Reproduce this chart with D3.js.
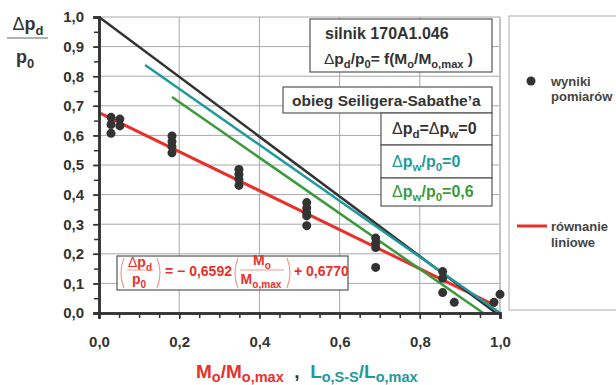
<!DOCTYPE html>
<html>
<head>
<meta charset="utf-8">
<script src="https://cdn.jsdelivr.net/npm/d3@7"></script>
<style>
  body { margin: 0; background: #fff; }
  svg { font-family: "Liberation Sans", Arial, sans-serif; }
</style>
</head>
<body>
<div id="wykres"></div>
<script>
// wyniki pomiarow
var pomiarX = [0.03, 0.03, 0.03, 0.052, 0.052,
    0.182, 0.182, 0.182, 0.182,
    0.349, 0.349, 0.349, 0.349,
    0.518, 0.518, 0.518, 0.518, 0.518,
    0.69, 0.69, 0.69, 0.69,
    0.857, 0.857, 0.857, 0.886, 0.985, 1.0];
var pomiarY = [0.661, 0.637, 0.607, 0.655, 0.632,
    0.598, 0.579, 0.562, 0.541,
    0.485, 0.469, 0.452, 0.431,
    0.373, 0.355, 0.338, 0.328, 0.295,
    0.253, 0.236, 0.221, 0.154,
    0.14, 0.117, 0.069, 0.036, 0.036, 0.063];

// rownanie liniowe: a * x + b
var wspA = -0.6592, wspB = 0.6770;
var liniowaX = [0, 0.99];

// obieg Seiligera-Sabathe'a
var czarnaX = [0, 0.99], czarnaY = [1.0, 0.0];
var turkusX = [0.115, 1.0], turkusY = [0.838, 0.0];
var zielonaX = [0.182, 0.958], zielonaY = [0.73, 0.0];

var osYTicks = d3.range(0, 1.001, 0.1);
var osXTicks = d3.range(0, 1.001, 0.2);
var drobneTicks = d3.range(0, 1.001, 0.05);

var width = 616, height = 385;
var CZERWONY = "#e8312c", TURKUS = "#1e9a9c", ZIELONY = "#3b9a3c", CIEMNY = "#333";

var svg = d3.select("#wykres").append("svg")
    .attr("width", width)
    .attr("height", height)

var x = d3.scaleLinear().domain([0, 1]).range([99, 500])
var y = d3.scaleLinear().domain([0, 1]).range([313, 17])

function przecinek(d) {
    return d3.format(".1f")(d).replace(".", ",")
}

// tekst z indeksami dolnymi: [tekst, "s" = indeks, "g" = cienka delta]
function napis(g, px, py, size, parts, fill, anchor) {
    var t = g.append("text")
        .attr("x", px).attr("y", py)
        .attr("font-size", size)
        .attr("font-weight", "bold")
        .attr("fill", fill)
        .attr("text-anchor", anchor || "start")
    var nizej = false
    parts.forEach(function(p) {
        var ts = t.append("tspan").text(p[0])
        if (p[1] === "s") {
            ts.attr("font-size", size * 0.72)
            if (!nizej) { ts.attr("dy", size * 0.25); nizej = true }
        } else {
            if (nizej) { ts.attr("dy", -size * 0.25); nizej = false }
        }
        if (p[1] === "g") ts.attr("font-weight", "normal")
    })
    return t
}

// siatka
svg.append("g").selectAll("line.h")
    .data(osYTicks.filter(function(d) { return d > 0 }))
    .enter().append("line")
    .attr("x1", x(0)).attr("x2", x(1))
    .attr("y1", function(d) { return y(d) })
    .attr("y2", function(d) { return y(d) })
    .attr("stroke", "#a8a8a8").attr("stroke-width", 1)
svg.append("g").selectAll("line.v")
    .data(osXTicks.filter(function(d) { return d > 0 }))
    .enter().append("line")
    .attr("x1", function(d) { return x(d) })
    .attr("x2", function(d) { return x(d) })
    .attr("y1", y(0)).attr("y2", y(1))
    .attr("stroke", function(d) { return d === 1 ? "#c4c4c4" : "#a8a8a8" })
    .attr("stroke-width", function(d) { return d === 1 ? 2 : 1 })

// linie
var linia = d3.line()
    .x(function(d) { return x(d[0]) })
    .y(function(d) { return y(d[1]) })

var liniowa = liniowaX.map(function(v) { return [v, wspA * v + wspB] })
svg.append("path").attr("d", linia(liniowa))
    .attr("fill", "none").attr("stroke", CZERWONY).attr("stroke-width", 3)
svg.append("path").attr("d", linia(d3.zip(czarnaX, czarnaY)))
    .attr("fill", "none").attr("stroke", CIEMNY).attr("stroke-width", 2.5)
svg.append("path").attr("d", linia(d3.zip(turkusX, turkusY)))
    .attr("fill", "none").attr("stroke", TURKUS).attr("stroke-width", 2.5)
svg.append("path").attr("d", linia(d3.zip(zielonaX, zielonaY)))
    .attr("fill", "none").attr("stroke", ZIELONY).attr("stroke-width", 2.5)

// punkty
svg.append("g").selectAll("circle")
    .data(d3.zip(pomiarX, pomiarY))
    .enter().append("circle")
    .attr("cx", function(d) { return x(d[0]) })
    .attr("cy", function(d) { return y(d[1]) })
    .attr("r", 4.5)
    .attr("fill", CIEMNY)

// osie
var osY = svg.append("g").attr("transform", "translate(" + x(0) + ",0)")
    .call(d3.axisLeft(y).tickValues(osYTicks).tickSize(6).tickPadding(9).tickFormat(przecinek))
var osYm = svg.append("g").attr("transform", "translate(" + x(0) + ",0)")
    .call(d3.axisLeft(y).tickValues(drobneTicks).tickSize(5).tickFormat(""))
var osX = svg.append("g").attr("transform", "translate(0," + y(0) + ")")
    .call(d3.axisBottom(x).tickValues(osXTicks).tickSize(6).tickPadding(17).tickFormat(przecinek))
var osXm = svg.append("g").attr("transform", "translate(0," + y(0) + ")")
    .call(d3.axisBottom(x).tickValues(drobneTicks).tickSize(5).tickFormat(""))

svg.selectAll(".domain").attr("stroke", CIEMNY).attr("stroke-width", 2.5)
svg.selectAll(".tick line").attr("stroke", CIEMNY).attr("stroke-width", 1.5)
svg.selectAll(".tick text")
    .attr("font-family", "Liberation Sans, Arial, sans-serif")
    .attr("font-size", 15).attr("font-weight", "bold").attr("fill", CIEMNY)

// opis osi Y
napis(svg, 28, 30, 18, [["\u0394", "g"], ["p"], ["d", "s"]], CIEMNY, "middle")
svg.append("line").attr("x1", 7).attr("x2", 48).attr("y1", 38).attr("y2", 38)
    .attr("stroke", "#999").attr("stroke-width", 1.5)
napis(svg, 25, 63, 18, [["p"], ["0", "s"]], CIEMNY, "middle")

// opis osi X
var tytul = svg.append("text").attr("x", 196).attr("y", 378)
    .attr("font-weight", "bold").attr("font-size", 19)
var czesci = [["M", CZERWONY], ["o", CZERWONY, 1], ["/M", CZERWONY], ["o,max", CZERWONY, 1],
    ["  ,  ", CIEMNY], ["L", TURKUS], ["o,S-S", TURKUS, 1], ["/L", TURKUS], ["o,max", TURKUS, 1]]
var nizej = false
czesci.forEach(function(c) {
    var ts = tytul.append("tspan").text(c[0]).attr("fill", c[1])
    if (c[2]) {
        ts.attr("font-size", 14.5)
        if (!nizej) { ts.attr("dy", 4); nizej = true }
    } else if (nizej) { ts.attr("dy", -4); nizej = false }
    if (c[0].trim() === ",") ts.attr("xml:space", "preserve")
})
tytul.attr("xml:space", "preserve")

// ramka: silnik
svg.append("rect").attr("x", 310).attr("y", 19).attr("width", 182).attr("height", 53)
    .attr("fill", "#fff").attr("stroke", "#555").attr("stroke-width", 1.2)
napis(svg, 325, 39, 16, [["silnik 170A1.046"]], CIEMNY)
napis(svg, 324, 64, 15.5, [["\u0394", "g"], ["p"], ["d", "s"], ["/p"], ["0", "s"], ["= f(M"], ["o", "s"], ["/M"], ["o,max", "s"], [" )"]], CIEMNY)

// ramka: obieg
svg.append("rect").attr("x", 283).attr("y", 87).attr("width", 209).attr("height", 26)
    .attr("fill", "#fff").attr("stroke", "#555").attr("stroke-width", 1.2)
napis(svg, 292, 106, 15.5, [["obieg Seiligera-Sabathe\u2019a"]], CIEMNY)

var wiersze = [
    { y0: 113, h: 32, fill: CIEMNY, parts: [["\u0394", "g"], ["p"], ["d", "s"], ["="], ["\u0394", "g"], ["p"], ["w", "s"], ["=0"]] },
    { y0: 145, h: 33, fill: TURKUS, parts: [["\u0394", "g"], ["p"], ["w", "s"], ["/p"], ["0", "s"], ["=0"]] },
    { y0: 178, h: 28, fill: ZIELONY, parts: [["\u0394", "g"], ["p"], ["w", "s"], ["/p"], ["0", "s"], ["=0,6"]] }
]
wiersze.forEach(function(w) {
    svg.append("rect").attr("x", 381).attr("y", w.y0).attr("width", 111).attr("height", w.h)
        .attr("fill", "#fff").attr("stroke", "#555").attr("stroke-width", 1.2)
    napis(svg, 392, w.y0 + w.h / 2 + 5, 16, w.parts, w.fill)
})

// ramka: rownanie
svg.append("rect").attr("x", 117).attr("y", 256).attr("width", 231).attr("height", 34)
    .attr("fill", "#fff").attr("stroke", "#555").attr("stroke-width", 1.2)
function nawias(px, lewy) {
    var k = lewy ? -1 : 1
    svg.append("path")
        .attr("d", "M" + (px - k * 2) + ",258 Q" + (px + k * 4) + ",273 " + (px - k * 2) + ",288")
        .attr("fill", "none").attr("stroke", "#f19a8c").attr("stroke-width", 1.2)
}
nawias(122, true); nawias(159, false)
nawias(236, true); nawias(289, false)
napis(svg, 140, 267, 14, [["\u0394", "g"], ["p"], ["d", "s"]], CZERWONY, "middle")
svg.append("line").attr("x1", 127).attr("x2", 154).attr("y1", 270).attr("y2", 270)
    .attr("stroke", "#f19a8c").attr("stroke-width", 1)
napis(svg, 139, 284, 14, [["p"], ["0", "s"]], CZERWONY, "middle")
napis(svg, 165, 276, 14, [["= \u2212 0,6592"]], CZERWONY)
napis(svg, 262, 265, 14, [["M"], ["o", "s"]], CZERWONY, "middle")
svg.append("line").attr("x1", 240).attr("x2", 284).attr("y1", 270).attr("y2", 270)
    .attr("stroke", "#f19a8c").attr("stroke-width", 1)
napis(svg, 261, 284, 14, [["M"], ["o,max", "s"]], CZERWONY, "middle")
napis(svg, 294, 276, 14, [["+ 0,6770"]], CZERWONY)

// legenda
svg.append("rect").attr("x", 509).attr("y", 16).attr("width", 120).attr("height", 294)
    .attr("fill", "none").attr("stroke", "#bbb").attr("stroke-width", 1.2)
svg.append("circle").attr("cx", 531).attr("cy", 81).attr("r", 4.5).attr("fill", CIEMNY)
napis(svg, 551, 86, 13, [["wyniki"]], "#444")
napis(svg, 551, 101, 13, [["pomiarów"]], "#444")
svg.append("line").attr("x1", 517).attr("x2", 547).attr("y1", 226).attr("y2", 226)
    .attr("stroke", CZERWONY).attr("stroke-width", 3)
napis(svg, 551, 231, 13, [["równanie"]], "#444")
napis(svg, 551, 247, 13, [["liniowe"]], "#444")
</script>
</body>
</html>
